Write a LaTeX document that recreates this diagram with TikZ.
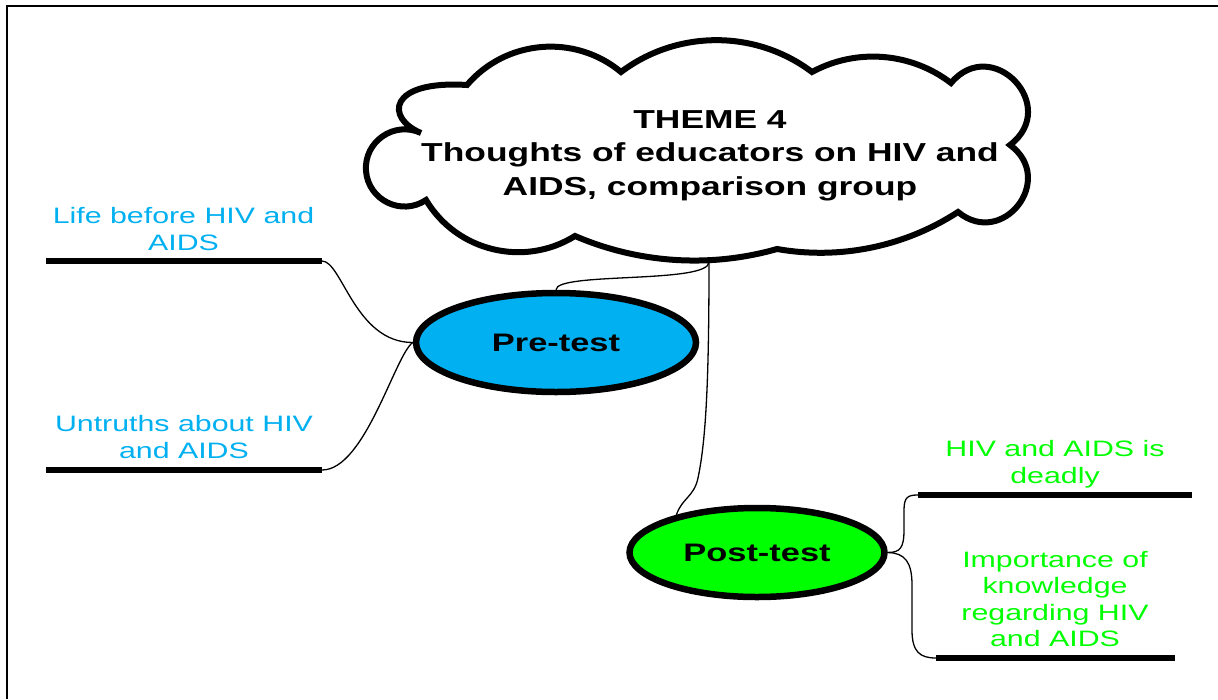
\documentclass[tikz,border=0pt]{standalone}
\usepackage{fontspec}
\setmainfont[FakeStretch=1.36]{Liberation Sans}
\usetikzlibrary{shapes.geometric}
\definecolor{skyblue}{HTML}{00B0F0}
\definecolor{brightgreen}{HTML}{00FF00}

\begin{document}
\begin{tikzpicture}[x=1pt,y=-1pt,
  frameline/.style={line width=2pt},
  cloudline/.style={line width=6pt, fill=white, line join=miter, miter limit=5},
  testnode/.style={ellipse, draw, line width=6.5pt, inner sep=0pt,
    font=\fontsize{25.3}{30}\selectfont\bfseries},
  branch/.style={line width=1.3pt},
  underbar/.style={line width=6pt},
  lbl/.style={align=center, anchor=base, inner sep=0pt,
    font=\fontsize{22.3}{26.5}\selectfont},
  prelbl/.style={lbl, text=skyblue},
  postlbl/.style={lbl, text=brightgreen}
]
\useasboundingbox (0,0) rectangle (1218,699);

% outer frame (top and left edges)
\draw[frameline] (7,699) -- (7,6) -- (1218,6);

% theme cloud: circular bumps between inward cusps, clockwise
\draw[cloudline] (467,85)
  to[bend left=44.6, looseness=0.995] (621,72)
  to[bend left=37,   looseness=0.947] (812,72)
  to[bend left=33,   looseness=0.926] (951,83)
  to[bend left=96.3, looseness=1.914] (1010,145)
  to[bend left=91.6, looseness=1.75]  (958,212)
  to[bend left=21.5, looseness=0.882] (777,249)
  to[bend left=19.6, looseness=0.877] (575,236)
  to[bend left=45.5, looseness=1.0]   (426,200)
  to[bend left=59.7, looseness=1.13]  (366,171)
  to[bend left=59.7, looseness=1.13]  (421,133)
  .. controls (385,118) and (388,80) .. (467,85) -- cycle;
\coordinate (cloudbot) at (709,262);
\node[anchor=base, align=center, inner sep=0pt,
  font=\fontsize{26}{33.5}\selectfont\bfseries] (title) at (710,195)
  {THEME 4\\Thoughts of educators on HIV and\\AIDS, comparison group};

% the two test groups
\node[testnode, fill=skyblue, minimum width=280pt, minimum height=99pt]
  (pre) at (556,342.5) {Pre-test};
\node[testnode, fill=brightgreen, minimum width=255pt, minimum height=89pt]
  (post) at (757,552.5) {Post-test};

% underlines of the sub-themes
\coordinate (l1a) at (46,261);   \coordinate (l1b) at (322,261);
\coordinate (l2a) at (46,470);   \coordinate (l2b) at (322,470);
\coordinate (r1a) at (918,495);  \coordinate (r1b) at (1192,495);
\coordinate (r2a) at (936,658);  \coordinate (r2b) at (1175,658);
\draw[underbar] (l1a) -- (l1b);
\draw[underbar] (l2a) -- (l2b);
\draw[underbar] (r1a) -- (r1b);
\draw[underbar] (r2a) -- (r2b);

% sub-theme labels (placed by the baseline of their last line)
\node[prelbl] (life) at (183.5,250) {Life before HIV and\\AIDS};
\node[prelbl] (untruths) at (184,458) {Untruths about HIV\\and AIDS};
\node[postlbl] (deadly) at (1055,483) {HIV and AIDS is\\deadly};
\node[postlbl] (knowledge) at (1055,646.7)
  {Importance of\\knowledge\\regarding HIV\\and AIDS};

% branches
\draw[branch] (cloudbot) .. controls +(0,22) and +(0,-18) .. (pre.north);
\draw[branch] (cloudbot) .. controls (709,380) and (706,440) .. (698,478)
  .. controls (694,497) and (682,498) .. (post.155);
\draw[branch] (l1b) .. controls (342,261) and (355,342.5) .. (pre.west);
\draw[branch] (pre.west) .. controls (395,355) and (365,470) .. (l2b);
\draw[branch] (post.east) .. controls (900,552.5) and (904,548) .. (904,530)
  -- (904,510) .. controls (904,497) and (908,495) .. (r1a);
\draw[branch] (post.east) .. controls (905,553) and (912,562) .. (912,585)
  -- (912,630) .. controls (912,652) and (920,658) .. (r2a);
\end{tikzpicture}
\end{document}
